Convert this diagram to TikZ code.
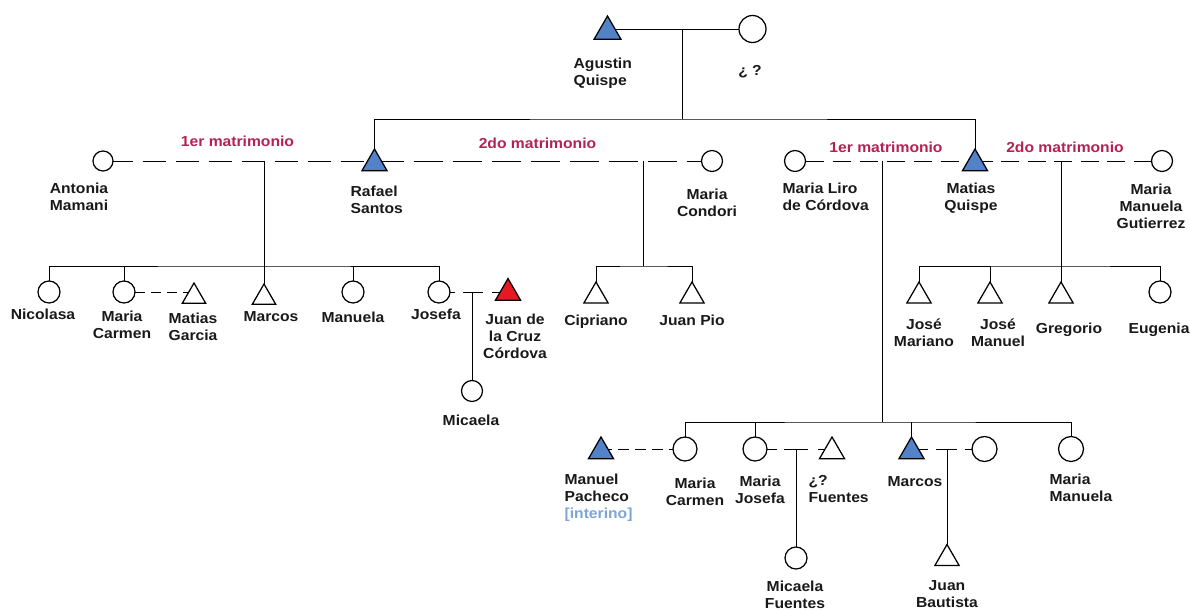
\documentclass[tikz,border=0pt]{standalone}
\usepackage{fontspec}
\setmainfont[FakeStretch=1.08]{Liberation Sans}
\usetikzlibrary{shapes.geometric}
\pgfdeclarelayer{bg}
\pgfsetlayers{bg,main}
\definecolor{pblue}{RGB}{84,130,200}
\definecolor{pred}{RGB}{230,25,35}
\definecolor{mcol}{RGB}{180,34,82}
\definecolor{icol}{RGB}{125,165,215}
\definecolor{tcol}{RGB}{25,25,25}
\begin{document}
\begin{tikzpicture}[x=1pt,y=-1pt,line width=1.25pt,
  male/.style={regular polygon, regular polygon sides=3, draw=black, fill=white, inner sep=0pt, outer sep=0pt, minimum size=#1},
  male/.default=28,
  fem/.style={circle, draw=black, fill=white, inner sep=0pt, outer sep=0pt, minimum size=#1},
  fem/.default=22,
  lbl/.style={font=\bfseries\fontsize{14.5}{17}\selectfont, text=tcol, inner sep=0pt, align=center},
  mlbl/.style={lbl, text=mcol},
  shortdash/.style={dash pattern=on 10pt off 6pt}]
\useasboundingbox (0,0) rectangle (1190,610);

% generation 1
\node[male=31, fill=pblue] (agustin) at (607.5,31.5) {};
\node[fem=27] (sp0) at (752.5,29) {};
\node[lbl, align=left, anchor=west] (lagustin) at (573,73.5) {Agustin\\Quispe};
\node[lbl] (lsp0) at (750,72) {¿ ?};

% generation 2
\node[fem=20] (antonia) at (103,161) {};
\node[male=29, fill=pblue] (rafael) at (374.5,163.5) {};
\node[fem=21] (condori) at (712,161) {};
\node[fem=21] (liro) at (795,161) {};
\node[male=29, fill=pblue] (matias) at (975,163.5) {};
\node[fem=21] (gutierrez) at (1162,161) {};

\node[lbl] (lantonia) at (79,197) {Antonia\\Mamani};
\node[lbl, align=left, anchor=west] (lrafael) at (350,199.5) {Rafael\\Santos};
\node[lbl] (lcondori) at (707,202.5) {Maria\\Condori};
\node[lbl, align=left, anchor=west] (lliro) at (782,196.5) {Maria Liro\\de Córdova};
\node[lbl] (lmatias) at (971,198.5) {Matias\\Quispe};
\node[lbl] (lgutierrez) at (1151,206.5) {Maria\\Manuela\\Gutierrez};
\node[mlbl] (mat1) at (237.5,141) {1er matrimonio};
\node[mlbl] (mat2) at (537.5,143) {2do matrimonio};
\node[mlbl] (mat3) at (886,147) {1er matrimonio};
\node[mlbl] (mat4) at (1065,147) {2do matrimonio};

% generation 3
\node[fem] (nicolasa) at (49,292) {};
\node[fem] (mcarmen) at (124,292) {};
\node[male=27] (mgarcia) at (194,296.5) {};
\node[male=27] (marcos1) at (264,297.5) {};
\node[fem] (manuela) at (353,292) {};
\node[fem] (josefa) at (439,292) {};
\node[male=29, fill=pred] (juancruz) at (508,293) {};
\node[fem=21] (micaela) at (472,391) {};
\node[male=28] (cipriano) at (596,296) {};
\node[male=28] (juanpio) at (692,296) {};
\node[male=28] (jmariano) at (919,296) {};
\node[male=28] (jmanuel) at (990,296) {};
\node[male=28] (gregorio) at (1061,296) {};
\node[fem] (eugenia) at (1160,292) {};

\node[lbl] (lnicolasa) at (43,314) {Nicolasa};
\node[lbl] (lmcarmen) at (122,325) {Maria\\Carmen};
\node[lbl] (lmgarcia) at (193,327) {Matias\\Garcia};
\node[lbl] (lmarcos1) at (271,317) {Marcos};
\node[lbl] (lmanuela) at (353,317) {Manuela};
\node[lbl] (ljosefa) at (436,314) {Josefa};
\node[lbl] (ljuancruz) at (515,336) {Juan de\\la Cruz\\Córdova};
\node[lbl] (lmicaela) at (471,420) {Micaela};
\node[lbl] (lcipriano) at (596,322) {Cipriano};
\node[lbl] (ljuanpio) at (692,320) {Juan Pio};
\node[lbl] (ljmariano) at (924,333) {José\\Mariano};
\node[lbl] (ljmanuel) at (998,333) {José\\Manuel};
\node[lbl] (lgregorio) at (1069,330) {Gregorio};
\node[lbl] (leugenia) at (1159,330) {Eugenia};

% generation 3 (Liro family) and 4
\node[male=29, fill=pblue] (pacheco) at (601,451.5) {};
\node[fem=24] (mcarmen2) at (685,449) {};
\node[fem=24] (mjosefa) at (755,449) {};
\node[male=29] (fuentes) at (832,451.5) {};
\node[male=29, fill=pblue] (marcos2) at (911.5,451.5) {};
\node[fem=25] (wife) at (984.5,449) {};
\node[fem=25] (mmanuela) at (1071,449) {};
\node[fem=22] (micaelaf) at (796,558) {};
\node[male=28] (bautista) at (947,558.5) {};

\node[lbl, align=left, anchor=north west] (lpacheco) at (564,473) {Manuel\\Pacheco\\\textcolor{icol}{[interino]}};
\node[lbl] (lmcarmen2) at (695,491.5) {Maria\\Carmen};
\node[lbl] (lmjosefa) at (760,490) {Maria\\Josefa};
\node[lbl, align=left, anchor=west] (lfuentes) at (808,489) {¿?\\Fuentes};
\node[lbl] (lmarcos2) at (915,482) {Marcos};
\node[lbl, align=left, anchor=west] (lmmanuela) at (1049,487.5) {Maria\\Manuela};
\node[lbl] (lmicaelaf) at (795,594.5) {Micaela\\Fuentes};
\node[lbl] (lbautista) at (947,594) {Juan\\Bautista};

\coordinate (c0) at (682,29);
\coordinate (bar0) at (682,119);
\coordinate (m1) at (264,161);
\coordinate (b1) at (264,266);
\coordinate (m2) at (643,161);
\coordinate (b2) at (643,266);
\coordinate (m3) at (882,161);
\coordinate (b3) at (882,422);
\coordinate (m4) at (1061,161);
\coordinate (b4) at (1061,266);

\begin{pgfonlayer}{bg}
\draw (agustin.center |- sp0.west) -- (sp0.west);
\draw (c0) -- (bar0);
\draw (rafael.north) |- (bar0) -| (matias.north);

\draw[dash pattern=on 23.5pt off 9.5pt, dash phase=3.5pt] (antonia.east) -- (antonia.east -| rafael.center);
\draw[dash pattern=on 29pt off 10pt] (rafael.center |- condori.west) -- (condori.west);
\draw[dash pattern=on 18pt off 9pt] (liro.east) -- (liro.east -| matias.center);
\draw[dash pattern=on 18pt off 8.5pt] (gutierrez.west) -- (gutierrez.west -| matias.center);

\draw (m1) -- (marcos1.north);
\draw (nicolasa.north) |- (b1) -| (josefa.north);
\draw (mcarmen.north) -- (mcarmen.north |- b1);
\draw (manuela.north) -- (manuela.north |- b1);

\draw (m2) -- (b2);
\draw (cipriano.north) |- (b2) -| (juanpio.north);

\draw (m4) -- (gregorio.north);
\draw (jmariano.north) |- (b4) -| (eugenia.north);
\draw (jmanuel.north) -- (jmanuel.north |- b4);

\draw (m3) -- (b3);
\draw (mcarmen2.north) |- (b3) -| (mmanuela.north);
\draw (mjosefa.north) -- (mjosefa.north |- b3);
\draw (marcos2.north) -- (marcos2.north |- b3);

\draw[shortdash] (mcarmen.east) -- (mcarmen.east -| mgarcia.center);
\draw[dash pattern=on 5pt off 8pt on 20pt off 9pt on 20pt] (josefa.east) -- (josefa.east -| juancruz.center);
\draw (micaela.north |- josefa.east) -- (micaela.north);

\draw[dash pattern=on 11pt off 6pt] (pacheco.center |- mcarmen2.west) -- (mcarmen2.west);
\draw[dash pattern=on 10pt off 7pt on 24pt off 10pt on 20pt] (mjosefa.east) -- (mjosefa.east -| fuentes.center);
\draw (micaelaf.north |- mjosefa.east) -- (micaelaf.north);
\draw[dash pattern=on 16.5pt off 8pt on 21pt off 8pt on 20pt] (marcos2.center |- wife.west) -- (wife.west);
\draw (bautista.north |- wife.west) -- (bautista.north);
\end{pgfonlayer}
\end{tikzpicture}
\end{document}
